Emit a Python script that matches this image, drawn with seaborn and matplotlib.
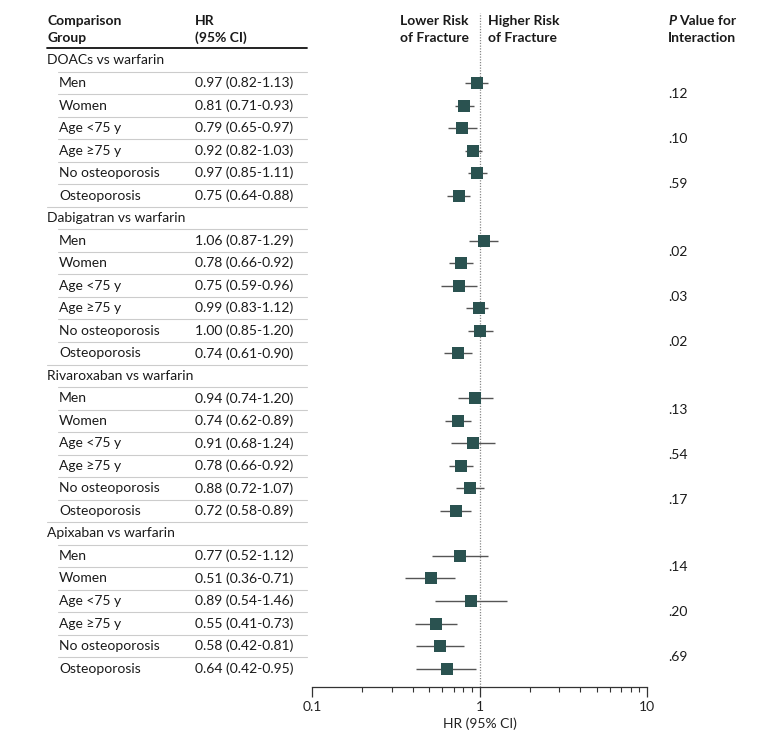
import numpy as np
import pandas as pd
import matplotlib
matplotlib.use("Agg")
import matplotlib.pyplot as plt
import seaborn as sns
from matplotlib.transforms import blended_transform_factory
from matplotlib.ticker import LogLocator, FixedLocator, NullFormatter

# ---------------- data ----------------
groups = ["DOACs vs warfarin", "Dabigatran vs warfarin",
          "Rivaroxaban vs warfarin", "Apixaban vs warfarin"]
subgroups = ["Men", "Women", "Age <75 y", "Age \u226575 y",
             "No osteoporosis", "Osteoporosis"]
hr = [[0.97, 0.81, 0.79, 0.92, 0.97, 0.75],
      [1.06, 0.78, 0.75, 0.99, 1.00, 0.74],
      [0.94, 0.74, 0.91, 0.78, 0.88, 0.72],
      [0.77, 0.51, 0.89, 0.55, 0.58, 0.64]]
lo = [[0.82, 0.71, 0.65, 0.82, 0.85, 0.64],
      [0.87, 0.66, 0.59, 0.83, 0.85, 0.61],
      [0.74, 0.62, 0.68, 0.66, 0.72, 0.58],
      [0.52, 0.36, 0.54, 0.41, 0.42, 0.42]]
hi = [[1.13, 0.93, 0.97, 1.03, 1.11, 0.88],
      [1.29, 0.92, 0.96, 1.12, 1.20, 0.90],
      [1.20, 0.89, 1.24, 0.92, 1.07, 0.89],
      [1.12, 0.71, 1.46, 0.73, 0.81, 0.95]]
hr_labels = [["0.97 (0.82-1.13)", "0.81 (0.71-0.93)", "0.79 (0.65-0.97)",
              "0.92 (0.82-1.03)", "0.97 (0.85-1.11)", "0.75 (0.64-0.88)"],
             ["1.06 (0.87-1.29)", "0.78 (0.66-0.92)", "0.75 (0.59-0.96)",
              "0.99 (0.83-1.12)", "1.00 (0.85-1.20)", "0.74 (0.61-0.90)"],
             ["0.94 (0.74-1.20)", "0.74 (0.62-0.89)", "0.91 (0.68-1.24)",
              "0.78 (0.66-0.92)", "0.88 (0.72-1.07)", "0.72 (0.58-0.89)"],
             ["0.77 (0.52-1.12)", "0.51 (0.36-0.71)", "0.89 (0.54-1.46)",
              "0.55 (0.41-0.73)", "0.58 (0.42-0.81)", "0.64 (0.42-0.95)"]]
p_values = [[".12", ".10", ".59"],
            [".02", ".03", ".02"],
            [".13", ".54", ".17"],
            [".14", ".20", ".69"]]
x_ticks = [0.1, 1, 10]
x_tick_labels = ["0.1", "1", "10"]

# ---------------- build table ----------------
rows = []
r = 0
for gi, g in enumerate(groups):
    rows.append(dict(row=r, kind="group", label=g, hr=np.nan, lo=np.nan,
                     hi=np.nan, txt=""))
    r += 1
    for si, s in enumerate(subgroups):
        rows.append(dict(row=r, kind="sub", label=s, hr=hr[gi][si],
                         lo=lo[gi][si], hi=hi[gi][si], txt=hr_labels[gi][si]))
        r += 1
df = pd.DataFrame(rows)
nrows = len(df)

# ---------------- figure ----------------
sns.set_theme(style="white")
plt.rcParams["font.family"] = ["Lato", "DejaVu Sans"]
W, H = 780, 742
fig = plt.figure(figsize=(W / 100, H / 100), dpi=100)

x0, x1 = 312, 647
ytop_px, ybot_px = 13, 687
row0_px, rowstep = 60.5, 22.52
ax = fig.add_axes([x0 / W, 1 - ybot_px / H, (x1 - x0) / W, (ybot_px - ytop_px) / H])
ax.set_xscale("log")
ax.set_xlim(0.1, 10)
ymin = (ytop_px - row0_px) / rowstep
ymax = (ybot_px - row0_px) / rowstep
ax.set_ylim(ymax, ymin)

for s in ["top", "right", "left"]:
    ax.spines[s].set_visible(False)
ax.spines["bottom"].set_color("#333333")
ax.spines["bottom"].set_linewidth(0.9)
ax.set_yticks([])
ax.xaxis.set_major_locator(FixedLocator(x_ticks))
ax.set_xticklabels(x_tick_labels, fontsize=10, color="#222222")
ax.xaxis.set_minor_locator(LogLocator(base=10, subs=np.arange(2, 10)))
ax.xaxis.set_minor_formatter(NullFormatter())
ax.tick_params(axis="x", which="major", length=7, width=0.9, color="#333333",
               direction="out", pad=3, bottom=True)
ax.tick_params(axis="x", which="minor", length=3.5, width=0.8, color="#333333",
               direction="out", bottom=True)
ax.set_xlabel("HR (95% CI)", fontsize=10, color="#222222", labelpad=3)

# reference line at 1
ax.axvline(1, color="#888888", lw=0.9, ls=(0, (1, 1.2)), zorder=1)

sub = df[df.kind == "sub"]
ax.hlines(sub["row"], sub["lo"], sub["hi"], color="#555555", lw=1.0, zorder=2)
sns.scatterplot(data=sub, x="hr", y="row", marker="s", s=80,
                color="#2a5250", edgecolor="#2a5250", linewidth=0,
                ax=ax, zorder=3, legend=False)
ax.set_ylabel("")

# ---------------- table text ----------------
tr = blended_transform_factory(fig.transFigure, ax.transData)
fs = 10
txt_col = "#1a1a1a"
for _, rw in df.iterrows():
    if rw.kind == "group":
        fig.text(47 / W, rw.row, rw.label, transform=tr, fontsize=fs,
                 va="center", ha="left", color=txt_col)
    else:
        fig.text(59 / W, rw.row, rw.label, transform=tr, fontsize=fs,
                 va="center", ha="left", color=txt_col)
        fig.text(195 / W, rw.row, rw.txt, transform=tr, fontsize=fs,
                 va="center", ha="left", color=txt_col)

# separators
for i in range(nrows - 1):
    y = i + 0.5
    nxt = df.iloc[i + 1]
    xs = 47 if nxt.kind == "group" else 58
    ax.plot([xs / W, 307 / W], [y, y], transform=tr, color="#cccccc",
            lw=0.8, clip_on=False)

# p values
for gi in range(len(groups)):
    base = gi * 7 + 1
    for k, pv in enumerate(p_values[gi]):
        y = base + 2 * k + 0.5
        fig.text(668 / W, y, pv, transform=tr, fontsize=fs, va="center",
                 ha="left", color=txt_col)

# headers
hy1 = 1 - 21 / H
hy2 = 1 - 38 / H
hdr = dict(fontsize=fs, fontweight="bold", va="center", color=txt_col)
fig.text(47 / W, hy1, "Comparison", **hdr)
fig.text(47 / W, hy2, "Group", **hdr)
fig.text(195 / W, hy1, "HR", **hdr)
fig.text(195 / W, hy2, "(95% CI)", **hdr)
fig.text(469 / W, hy1, "Lower Risk", ha="right", **hdr)
fig.text(469 / W, hy2, "of Fracture", ha="right", **hdr)
fig.text(488 / W, hy1, "Higher Risk", ha="left", **hdr)
fig.text(488 / W, hy2, "of Fracture", ha="left", **hdr)
fig.text(668 / W, hy1, "P", fontstyle="italic", ha="left", **hdr)
fig.text(679 / W, hy1, "Value for", ha="left", **hdr)
fig.text(668 / W, hy2, "Interaction", ha="left", **hdr)
fig.add_artist(plt.Line2D([47 / W, 307 / W], [1 - 48 / H, 1 - 48 / H],
                          color="#111111", lw=1.3))

fig.savefig("out.png", dpi=100)
